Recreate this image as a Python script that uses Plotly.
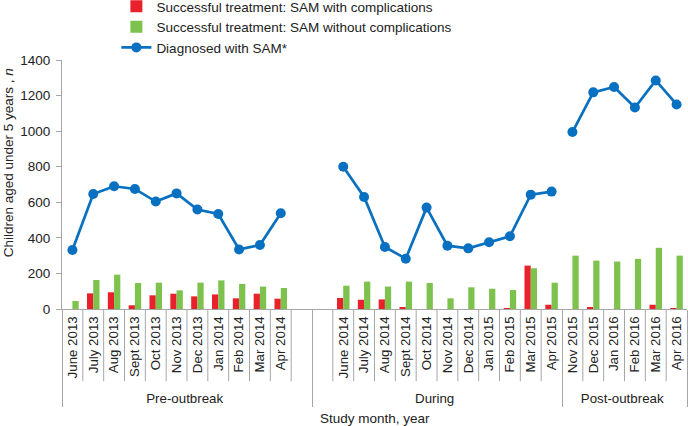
import plotly.graph_objects as go

groups = ["Pre-outbreak"] * 12 + ["During"] * 12 + ["Post-outbreak"] * 6
months = ["June 2013", "July 2013", "Aug 2013", "Sept 2013", "Oct 2013", "Nov 2013",
          "Dec 2013", "Jan 2014", "Feb 2014", "Mar 2014", "Apr 2014", " ",
          "June 2014", "July 2014", "Aug 2014", "Sept 2014", "Oct 2014", "Nov 2014",
          "Dec 2014", "Jan 2015", "Feb 2015", "Mar 2015", "Apr 2015", " ",
          "Nov 2015", "Dec 2015", "Jan 2016", "Feb 2016", "Mar 2016", "Apr 2016"]

with_compl = [0, 88, 94, 21, 77, 86, 71, 82, 60, 86, 58, None,
              62, 52, 54, 9, 0, 0, 0, 0, 2, 244, 24, None,
              0, 11, 0, 0, 24, 2]
without_compl = [45, 163, 193, 146, 148, 105, 148, 161, 141, 126, 118, None,
                 131, 154, 126, 154, 146, 60, 122, 114, 107, 229, 148, None,
                 300, 272, 267, 282, 344, 300]
diagnosed = [332, 647, 690, 675, 604, 650, 559, 534, 335, 360, 538, None,
             800, 630, 349, 283, 570, 356, 341, 375, 409, 643, 660, None,
             995, 1218, 1248, 1133, 1285, 1150]

x = [groups, months]
FONT = "Liberation Sans, Arial, sans-serif"
AXC = "#A6A6A6"

fig = go.Figure()
fig.add_trace(go.Bar(x=x, y=with_compl, name="Successful treatment: SAM with complications",
                     marker=dict(color="#E8212B", line=dict(width=0)), legendgroup="a"))
fig.add_trace(go.Bar(x=x, y=without_compl, name="Successful treatment: SAM without complications",
                     marker=dict(color="#7DC24C", line=dict(width=0)), legendgroup="b"))
fig.add_trace(go.Scatter(x=x, y=diagnosed, name="Diagnosed with SAM*", mode="lines+markers",
                         line=dict(color="#0870C0", width=2.7),
                         marker=dict(size=10, color="#0870C0"),
                         connectgaps=False, legendgroup="c"))

# short separators between categories inside each group
n = len(months)
shapes = []
for i in range(n - 1):
    if groups[i] == groups[i + 1]:
        shapes.append(dict(type="line", xref="x", yref="paper", x0=i + 0.5, x1=i + 0.5,
                           y0=0, y1=-0.29, line=dict(color=AXC, width=1)))

fig.update_layout(
    width=688, height=426,
    margin=dict(l=62, r=1, t=60, b=117, autoexpand=False),
    paper_bgcolor="white", plot_bgcolor="white",
    font=dict(family=FONT, size=13, color="#222"),
    barmode="group", bargap=0.4, bargroupgap=0,
    showlegend=True,
    legend=dict(x=0.087, y=1.277, xanchor="left", yanchor="top",
                font=dict(size=13.5), tracegroupgap=0,
                bgcolor="rgba(0,0,0,0)", traceorder="grouped"),
    shapes=shapes,
    annotations=[
        dict(text="Children aged under 5 years , <i>n</i>", xref="paper", yref="paper",
             x=-0.086, y=0.586, xanchor="center", yanchor="middle", textangle=-90,
             showarrow=False, font=dict(size=13.5)),
        dict(text="Study month, year", xref="paper", yref="paper",
             x=0.5, y=-0.438, xanchor="center", yanchor="middle",
             showarrow=False, font=dict(size=13.5)),
    ],
    xaxis=dict(type="multicategory", range=[-0.5, n - 0.5], autorange=False, automargin=False,
               showline=True, linecolor=AXC, linewidth=1,
               ticks="", tickangle=-90, ticklabelstandoff=1,
               showdividers=True, dividercolor=AXC, dividerwidth=1,
               tickfont=dict(size=13.3), showgrid=False),
    yaxis=dict(range=[0, 1400], dtick=200, showline=True, linecolor=AXC, linewidth=1,
               automargin=False,
               ticks="outside", ticklen=5, tickcolor=AXC, showgrid=False,
               zeroline=False, tickfont=dict(size=13.5), ticklabelstandoff=3),
)

fig.write_html("out.html", config={"displayModeBar": False},
               post_script="document.body.style.margin='0px';")
